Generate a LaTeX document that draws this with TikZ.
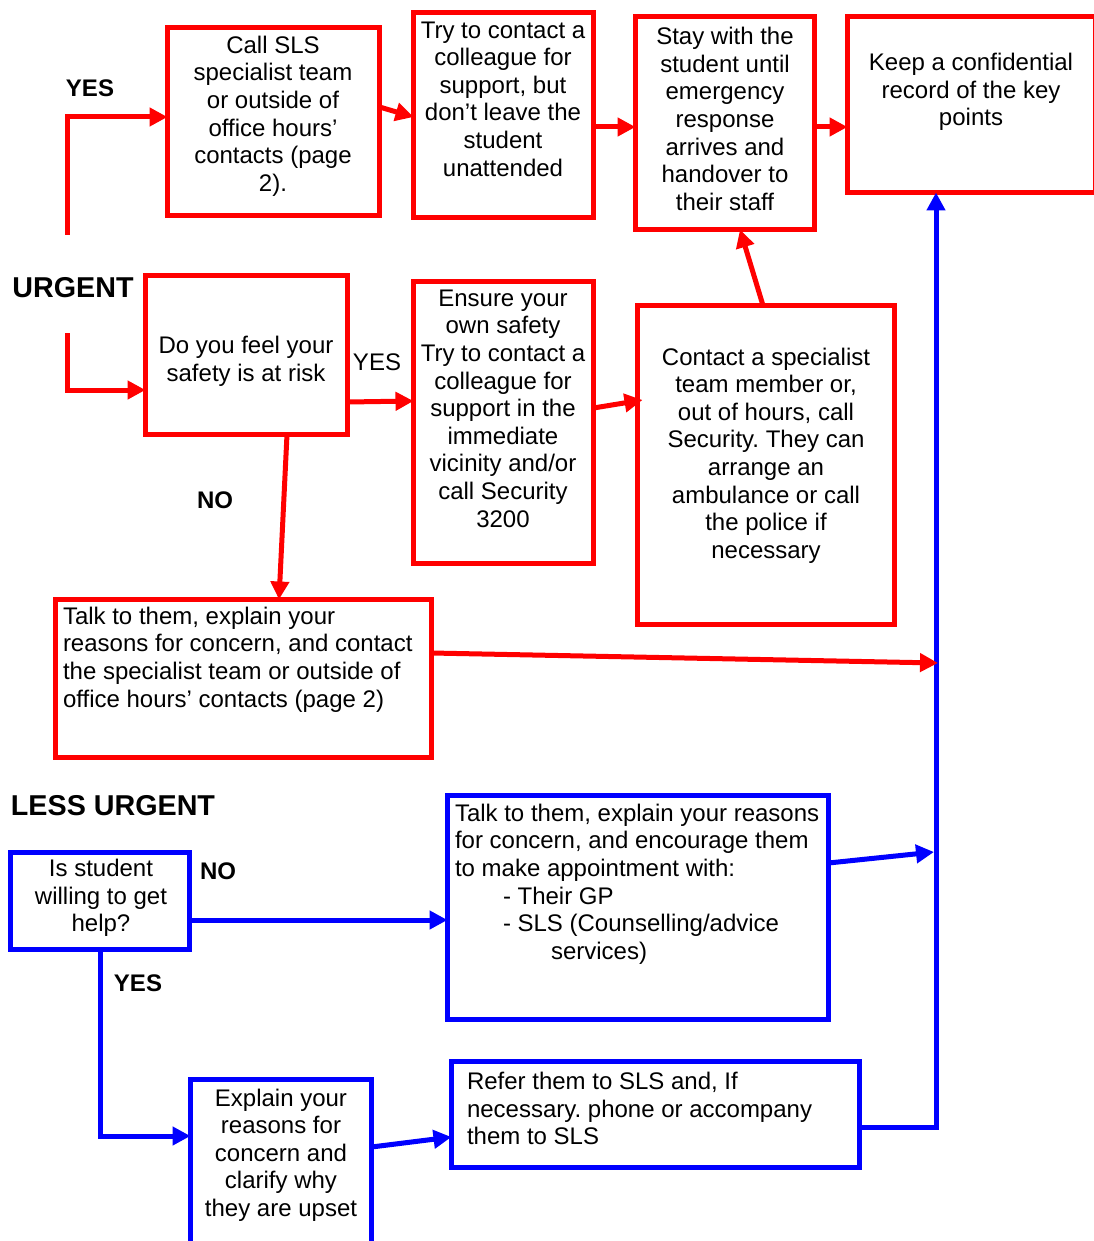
\documentclass[tikz,border=0pt]{standalone}
\usepackage{fontspec}
\setmainfont{Liberation Sans}
\usetikzlibrary{arrows.meta}
\definecolor{rd}{RGB}{255,0,0}
\definecolor{bl}{RGB}{0,0,255}
\frenchspacing
\begin{document}
\begin{tikzpicture}[x=1pt,y=-1pt,
  every node/.style={inner sep=0pt,outer sep=0pt},
  box/.style={draw,line width=5pt,rectangle,fill=white},
  rbox/.style={box,draw=rd},
  bbox/.style={box,draw=bl},
  txt/.style={font=\fontsize{24}{27.6}\selectfont,align=center},
  ltxt/.style={font=\fontsize{24}{27.6}\selectfont,align=left,anchor=west},
  lab/.style={font=\fontsize{24}{27.6}\selectfont\bfseries},
  head/.style={font=\fontsize{28.7}{32}\selectfont\bfseries},
  rline/.style={draw=rd,line width=5pt,-{Triangle[length=18pt,width=18pt]}},
  bline/.style={draw=bl,line width=5pt,-{Triangle[length=18pt,width=18pt]}}
]
\useasboundingbox (0,0) rectangle (1093,1241);

% ---- red boxes
\node[rbox,minimum width=212pt,minimum height=188pt] (callsls) at (273.5,121.5) {};
\node[rbox,minimum width=180pt,minimum height=205pt] (tryc) at (503.5,115) {};
\node[rbox,minimum width=179pt,minimum height=213pt] (stay) at (725,123) {};
\node[rbox,minimum width=247.5pt,minimum height=176pt] (keep) at (971.25,104.5) {};
\node[rbox,minimum width=202pt,minimum height=159pt] (feel) at (246.5,355) {};
\node[rbox,minimum width=180pt,minimum height=282pt] (ensure) at (503.5,422.5) {};
\node[rbox,minimum width=257pt,minimum height=319pt] (contact) at (766,465) {};
\node[rbox,minimum width=376pt,minimum height=158pt] (talkr) at (243.5,678.5) {};
% ---- blue boxes
\node[bbox,minimum width=179pt,minimum height=97pt] (willing) at (100,901) {};
\node[bbox,minimum width=381pt,minimum height=224pt] (talkb) at (638,907.5) {};
\node[bbox,minimum width=181pt,minimum height=178.5pt] (explain) at (281,1168.75) {};
\node[bbox,minimum width=408pt,minimum height=106pt] (refer) at (655.5,1114.5) {};

% ---- box texts
\node[txt] (t1) at (273,116) {Call SLS\\specialist team\\or outside of\\office hours’\\contacts (page\\2).};
\node[txt] (t2) at (503,99) {Try to contact a\\colleague for\\support, but\\don’t leave the\\student\\unattended};
\node[txt] (t3) at (725,119) {Stay with the\\student until\\emergency\\response\\arrives and\\handover to\\their staff};
\node[txt] (t4) at (971,92) {Keep a confidential\\record of the key\\points};
\node[txt] (t5) at (246,361) {Do you feel your\\safety is at risk};
\node[txt] (t6) at (503,408.5) {Ensure your\\own safety\\Try to contact a\\colleague for\\support in the\\immediate\\vicinity and/or\\call Security\\3200};
\node[txt] (t7) at (766,455.5) {Contact a specialist\\team member or,\\out of hours, call\\Security. They can\\arrange an\\ambulance or call\\the police if\\necessary};
\node[ltxt] (t8) at (63,659.5) {Talk to them, explain your\\reasons for concern, and contact\\the specialist team or outside of\\office hours’ contacts (page 2)};
\node[txt] (t9) at (101,898) {Is student\\willing to get\\help?};
\node[ltxt] (t10) at (455,884) {Talk to them, explain your reasons\\for concern, and encourage them\\to make appointment with:\\\hspace*{48pt}- Their GP\\\hspace*{48pt}- SLS (Counselling/advice\\\hspace*{96pt}services)};
\node[txt] (t11) at (281,1155) {Explain your\\reasons for\\concern and\\clarify why\\they are upset};
\node[ltxt] (t12) at (467,1108.5) {Refer them to SLS and, If\\necessary. phone or accompany\\them to SLS};

% ---- labels
\node[lab] (yes1) at (90,88) {YES};
\node[head] (urgent) at (73,288) {URGENT};
\node[font=\fontsize{24}{27.6}\selectfont] (yes2) at (377,362) {YES};
\node[lab] (no1) at (215,500) {NO};
\node[head] (lessurg) at (113,806) {LESS URGENT};
\node[lab] (no2) at (218,871) {NO};
\node[lab] (yes3) at (138,983) {YES};

% ---- coordinates
\coordinate (u1) at (67,235);
\coordinate (u2) at (67,333);
\coordinate (sp) at (936,0);
\coordinate (j1) at (938,663);
\coordinate (j2) at (934,852);

% ---- red connectors
\draw[rline] (u1) |- ([yshift=4.5pt]callsls.west);
\draw[rline] (u2) |- ([yshift=-35pt]feel.west);
\draw[rline] ([yshift=14.5pt]callsls.east) -- ([yshift=-2pt]tryc.west);
\draw[rline] ([yshift=-12pt]tryc.east) -- ([yshift=-4pt]stay.west);
\draw[rline] ([yshift=-4pt]stay.east) -- ([yshift=-22.5pt]keep.west);
\draw[rline] ([xshift=-3pt]contact.north) -- ([xshift=15pt]stay.south);
\draw[rline] ([yshift=-47pt]feel.east) -- ([yshift=21.5pt]ensure.west);
\draw[rline] ([yshift=14.5pt]ensure.east) -- ([xshift=5pt,yshift=65pt]contact.west);
\draw[rline] ([xshift=40.5pt]feel.south) -- ([xshift=35.5pt]talkr.north);

% ---- blue connectors
\draw[bline] ([yshift=-12.5pt]refer.east) -| (keep.south -| sp);
\draw[rline] ([yshift=25.5pt]talkr.east) -- (j1);
\draw[bline] ([yshift=44.5pt]talkb.east) -- (j2);
\draw[bline] ([yshift=-19pt]willing.east) -- ([yshift=-19pt]willing.east -| talkb.west);
\draw[bline] (willing.south) |- ([yshift=32.75pt]explain.west);
\draw[bline] ([yshift=21.75pt]explain.east) -- ([yshift=-22.5pt]refer.west);
\end{tikzpicture}
\end{document}
